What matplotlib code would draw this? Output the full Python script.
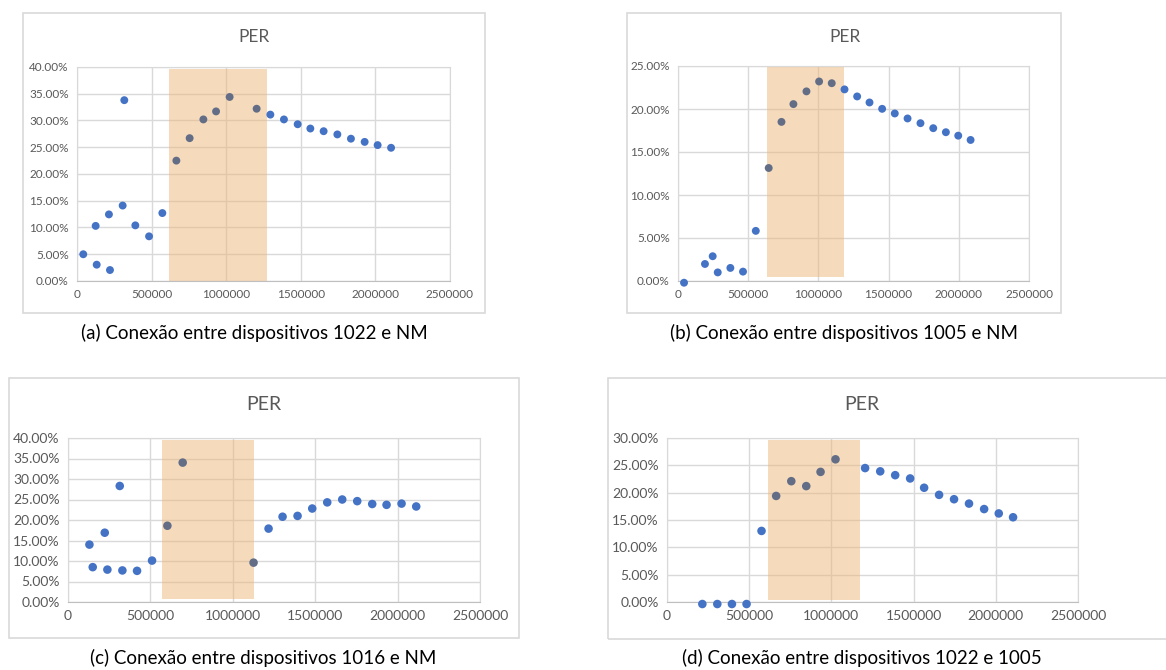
import matplotlib
matplotlib.use("Agg")
import matplotlib.pyplot as plt
from matplotlib.patches import Rectangle
from matplotlib.ticker import FuncFormatter, MultipleLocator

plt.rcParams['font.family'] = ['Lato', 'DejaVu Sans']

# (a) 1022 - NM
a_x = [42e3, 125e3, 132e3, 214e3, 221e3, 306e3, 317e3, 391e3, 483e3, 572e3,
       666e3, 755e3, 847e3, 932e3, 1023e3, 1204e3, 1296e3, 1387e3, 1479e3,
       1564e3, 1653e3, 1745e3, 1836e3, 1928e3, 2015e3, 2105e3]
a_y = [5.0, 10.3, 3.05, 12.45, 2.05, 14.1, 33.8, 10.4, 8.35, 12.7,
       22.5, 26.7, 30.2, 31.7, 34.4, 32.2, 31.1, 30.2, 29.3,
       28.5, 28.0, 27.4, 26.6, 26.0, 25.4, 24.9]
a_shade = [617e3, 1271e3, 0.0, 39.7]

# (b) 1005 - NM
b_x = [43e3, 192e3, 247e3, 283e3, 373e3, 463e3, 554e3, 646e3, 737e3, 822e3,
       915e3, 1005e3, 1095e3, 1186e3, 1276e3, 1364e3, 1454e3, 1544e3,
       1635e3, 1727e3, 1818e3, 1908e3, 1996e3, 2084e3]
b_y = [-0.2, 1.98, 2.88, 1.0, 1.52, 1.09, 5.83, 13.14, 18.5, 20.57,
       22.05, 23.2, 23.0, 22.28, 21.46, 20.76, 20.02, 19.48,
       18.9, 18.35, 17.77, 17.3, 16.9, 16.4]
b_shade = [632e3, 1183e3, 0.5, 25.0]

# (c) 1016 - NM
c_x = [130e3, 150e3, 223e3, 239e3, 314e3, 330e3, 419e3, 510e3, 603e3, 696e3,
       1126e3, 1217e3, 1302e3, 1393e3, 1482e3, 1573e3, 1664e3, 1755e3,
       1846e3, 1933e3, 2024e3, 2113e3]
c_y = [14.0, 8.5, 16.9, 7.9, 28.3, 7.7, 7.6, 10.1, 18.6, 34.0,
       9.6, 17.9, 20.8, 21.0, 22.8, 24.3, 25.0, 24.6,
       23.9, 23.7, 24.0, 23.3]
c_shade = [573e3, 1128e3, 0.8, 39.5]

# (d) 1022 - 1005
d_x = [215e3, 306e3, 395e3, 484e3, 575e3, 664e3, 756e3, 847e3, 934e3, 1025e3,
       1205e3, 1297e3, 1388e3, 1479e3, 1564e3, 1655e3, 1746e3, 1837e3,
       1929e3, 2018e3, 2105e3]
d_y = [-0.37, -0.37, -0.37, -0.37, 13.0, 19.4, 22.1, 21.2, 23.8, 26.1,
       24.5, 23.9, 23.2, 22.6, 20.9, 19.6, 18.8, 18.0,
       17.0, 16.2, 15.5]
d_shade = [612e3, 1171e3, 0.43, 29.6]

captions = ['(a) Conexão entre dispositivos 1022 e NM',
            '(b) Conexão entre dispositivos 1005 e NM',
            '(c) Conexão entre dispositivos 1016 e NM',
            '(d) Conexão entre dispositivos 1022 e 1005']

W, H = 1166, 670
fig = plt.figure(figsize=(W / 100, H / 100), dpi=100)
fig.patch.set_facecolor('white')

GRID = '#D9D9D9'
TXT = '#595959'
BLUE = '#4472C4'
SHADED = '#636E86'


def px_box(x0, y0, x1, y1):
    # pixel box (top-left origin) -> figure fraction
    return [x0 / W, 1 - y1 / H, (x1 - x0) / W, (y1 - y0) / H]


def draw_panel(frame, plot, title_pos, cap_pos, caption, x, y, ymax, shade, fs):
    fig.patches.append(Rectangle((frame[0] / W, 1 - frame[3] / H),
                                 (frame[2] - frame[0]) / W, (frame[3] - frame[1]) / H,
                                 transform=fig.transFigure, facecolor='none',
                                 edgecolor=GRID, linewidth=1.2, zorder=-1))
    ax = fig.add_axes(px_box(*plot))
    ax.set_xlim(0, 2500000)
    ax.set_ylim(0, ymax)
    ax.xaxis.set_major_locator(MultipleLocator(500000))
    ax.yaxis.set_major_locator(MultipleLocator(5))
    ax.xaxis.set_major_formatter(FuncFormatter(lambda v, p: '%d' % v))
    ax.yaxis.set_major_formatter(FuncFormatter(lambda v, p: '%.2f%%' % v))
    ax.grid(True, color=GRID, linewidth=1.0)
    ax.set_axisbelow(True)
    for s in ax.spines.values():
        s.set_color(GRID)
    ax.spines['bottom'].set_color('#BFBFBF')
    ax.tick_params(length=0, labelsize=fs, labelcolor=TXT, pad=6)

    # faixa destacada
    x0, x1, y0, y1 = shade
    ax.add_patch(Rectangle((x0, y0), x1 - x0, y1 - y0, facecolor='#EDB67A',
                           alpha=0.5, edgecolor='none', zorder=2))
    colors = [SHADED if x0 <= xi <= x1 else BLUE for xi in x]
    ax.scatter(x, y, s=fs * 3.8, c=colors, zorder=3, clip_on=False, linewidths=0)

    fig.text(title_pos[0] / W, 1 - title_pos[1] / H, 'PER', ha='center', va='center',
             fontsize=fs + 4, color=TXT)
    fig.text(cap_pos[0] / W, 1 - cap_pos[1] / H, caption, ha='center', va='center',
             fontsize=13.5, color='black')
    return ax


draw_panel((23, 13, 485, 313), (77, 67, 450, 281), (254, 37), (254, 333),
           captions[0], a_x, a_y, 40, a_shade, 8.5)
draw_panel((627, 13, 1061, 313), (678, 66, 1029, 281), (845, 37), (844, 333),
           captions[1], b_x, b_y, 25, b_shade, 8.5)
draw_panel((9, 378, 519, 638), (68, 438, 480, 602), (264, 405), (263, 658),
           captions[2], c_x, c_y, 40, c_shade, 10)
draw_panel((608, 378, 1175, 639), (667, 438, 1078, 602), (862, 405), (862, 658),
           captions[3], d_x, d_y, 30, d_shade, 10)

fig.savefig('out.png', dpi=100, facecolor='white')
